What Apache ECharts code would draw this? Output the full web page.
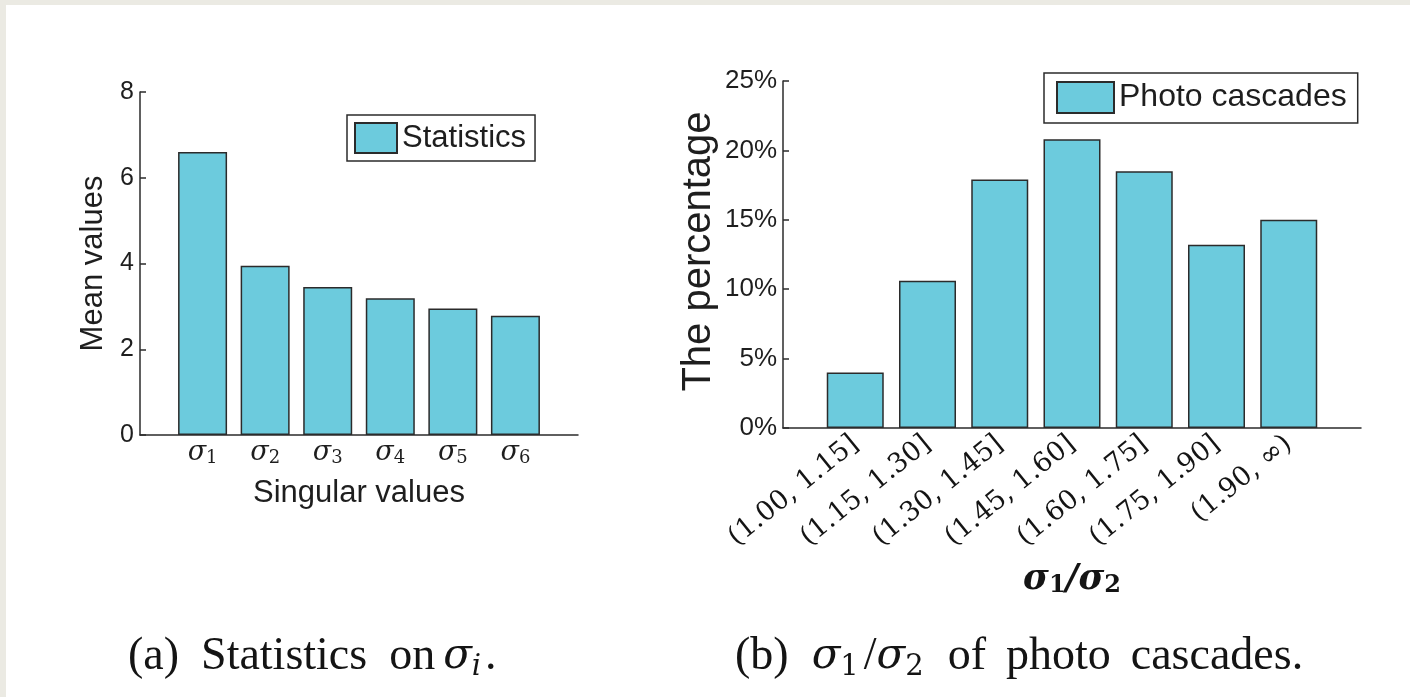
<!DOCTYPE html>
<html>
<head>
<meta charset="utf-8">
<script src="https://cdn.jsdelivr.net/npm/echarts@6/dist/echarts.min.js"></script>
<style>
  html, body { margin: 0; padding: 0; width: 1410px; height: 697px; overflow: hidden; background: #ebeae3; }
  #paper { position: absolute; left: 6px; top: 5px; right: 0; bottom: 0; background: #ffffff; }
  #chart { position: absolute; left: 0; top: 0; width: 1410px; height: 697px; }
</style>
</head>
<body>
<div id="paper"></div>
<div id="chart"></div>
<script>
// (a) mean of the leading singular values
const statCategories = ['σ1', 'σ2', 'σ3', 'σ4', 'σ5', 'σ6'];
const statValues = [6.6, 3.95, 3.45, 3.19, 2.95, 2.78];
const statTicks = [0, 2, 4, 6, 8];

// (b) distribution of sigma1 / sigma2 over photo cascades (percent)
const ratioCategories = ['(1.00, 1.15]', '(1.15, 1.30]', '(1.30, 1.45]', '(1.45, 1.60]', '(1.60, 1.75]', '(1.75, 1.90]', '(1.90, ∞)'];
const ratioValues = [4.0, 10.6, 17.9, 20.8, 18.5, 13.2, 15.0];
const percentTicks = [0, 5, 10, 15, 20, 25];

const BAR_FILL = '#6ccbdd';
const EDGE = '#2b2b2b';
const INK = '#1e1e1e';
const CAP = '#141414';
const SANS = '"Liberation Sans", Arial, sans-serif';
const SERIF = '"Liberation Serif", "Times New Roman", serif';
const MATH = '"DejaVu Serif", serif';

const chart = echarts.init(document.getElementById('chart'), null, { renderer: 'canvas' });

function catIndex(v, list) {
  const i = Math.round(v) - 1;
  return (Math.abs(v - Math.round(v)) < 1e-6 && i >= 0 && i < list.length) ? i : -1;
}

const axisLineStyle = { color: EDGE, width: 1.5 };

function capStyle(extra) {
  return Object.assign({ fontFamily: SERIF, fontWeight: 'normal', fontSize: 46, lineHeight: 50, color: CAP }, extra || {});
}
function gap(w) { return capStyle({ width: w }); }
const capMath = capStyle({ fontFamily: MATH, fontStyle: 'italic', fontSize: 42 });
const capSub = capStyle({ fontFamily: MATH, fontSize: 29, lineHeight: 30, verticalAlign: 'bottom' });

const option = {
  animation: false,
  grid: [
    { left: 140, top: 92, width: 438, height: 343, outerBoundsMode: 'none', containLabel: false },
    { left: 783, top: 81, width: 578, height: 347, outerBoundsMode: 'none', containLabel: false }
  ],
  legend: [
    {
      data: ['Statistics'], left: 347, top: 115, selectedMode: false,
      itemWidth: 42, itemHeight: 30, padding: [7, 9, 7, 7],
      borderColor: EDGE, borderWidth: 1.5, backgroundColor: '#fff', borderRadius: 0,
      icon: 'rect',
      textStyle: { fontFamily: SANS, fontSize: 31, color: INK, lineHeight: 30 }
    },
    {
      data: ['Photo cascades'], left: 1044, top: 73, selectedMode: false,
      itemWidth: 57, itemHeight: 31, padding: [8, 11, 9, 12],
      borderColor: EDGE, borderWidth: 1.5, backgroundColor: '#fff', borderRadius: 0,
      icon: 'rect',
      textStyle: { fontFamily: SANS, fontSize: 32, color: INK, lineHeight: 32 }
    }
  ],
  xAxis: [
    {
      gridIndex: 0, type: 'value', min: 0, max: statCategories.length + 1, interval: 1,
      splitLine: { show: false }, axisTick: { show: false },
      axisLine: { show: true, lineStyle: axisLineStyle },
      axisLabel: {
        margin: 4, color: INK,
        formatter: function (v) {
          const i = catIndex(v, statCategories);
          if (i < 0) return '';
          const c = statCategories[i];
          return '{s|' + c.slice(0, 1) + '}{n|' + c.slice(1) + '}';
        },
        rich: {
          s: { fontFamily: MATH, fontStyle: 'italic', fontSize: 27, lineHeight: 28, color: INK },
          n: { fontFamily: MATH, fontSize: 18, lineHeight: 12, verticalAlign: 'bottom', color: INK }
        }
      },
      name: 'Singular values', nameLocation: 'middle', nameGap: 43,
      nameTextStyle: { fontFamily: SANS, fontSize: 31, color: INK }
    },
    {
      gridIndex: 1, type: 'value', min: 0, max: ratioCategories.length + 1, interval: 1,
      splitLine: { show: false }, axisTick: { show: false },
      axisLine: { show: true, lineStyle: axisLineStyle },
      axisLabel: {
        margin: 13, rotate: 39, color: '#141414',
        fontFamily: MATH, fontSize: 27,
        formatter: function (v) {
          const i = catIndex(v, ratioCategories);
          return i < 0 ? '' : ratioCategories[i];
        }
      },
      name: '{s|σ}{n|1}{s|/σ}{n|2}', nameLocation: 'middle', nameGap: 134,
      nameTextStyle: {
        rich: {
          s: { fontFamily: MATH, fontStyle: 'italic', fontWeight: 'bold', fontSize: 35, lineHeight: 36, color: '#141414' },
          n: { fontFamily: MATH, fontWeight: 'bold', fontSize: 24, lineHeight: 16, verticalAlign: 'bottom', color: '#141414' }
        }
      }
    }
  ],
  yAxis: [
    {
      gridIndex: 0, type: 'value', min: statTicks[0], max: statTicks[statTicks.length - 1],
      interval: statTicks[1] - statTicks[0],
      splitLine: { show: false },
      axisLine: { show: true, lineStyle: axisLineStyle },
      axisTick: { show: true, inside: true, length: 6, lineStyle: axisLineStyle },
      axisLabel: { margin: 6, fontFamily: SANS, fontSize: 25, color: INK },
      name: 'Mean values', nameLocation: 'middle', nameGap: 31,
      nameTextStyle: { fontFamily: SANS, fontSize: 31, color: INK }
    },
    {
      gridIndex: 1, type: 'value', min: percentTicks[0], max: percentTicks[percentTicks.length - 1],
      interval: percentTicks[1] - percentTicks[0],
      splitLine: { show: false },
      axisLine: { show: true, lineStyle: axisLineStyle },
      axisTick: { show: true, inside: true, length: 6, lineStyle: axisLineStyle },
      axisLabel: { margin: 6, fontFamily: SANS, fontSize: 26, color: INK, formatter: '{value}%' },
      name: 'The percentage', nameLocation: 'middle', nameGap: 64,
      nameTextStyle: { fontFamily: SANS, fontSize: 40, color: INK, padding: [0, 0, 0, 6] }
    }
  ],
  series: [
    {
      name: 'Statistics', type: 'bar', xAxisIndex: 0, yAxisIndex: 0, barWidth: 49,
      itemStyle: { color: BAR_FILL, borderColor: EDGE, borderWidth: 1.5 },
      data: statValues.map((v, i) => [i + 1, v])
    },
    {
      name: 'Photo cascades', type: 'bar', xAxisIndex: 1, yAxisIndex: 1, barWidth: 57,
      itemStyle: { color: BAR_FILL, borderColor: EDGE, borderWidth: 1.5 },
      data: ratioValues.map((v, i) => [i + 1, v])
    }
  ],
  title: [
    {
      left: 128, top: 632, padding: 0,
      text: '{t|(a)}{g|\u00a0}{t|Statistics}{w|\u00a0}{t|on}{v|\u00a0}{m|σ}{i|i}{d|\u00a0}{t|.}',
      textStyle: {
        fontWeight: 'normal',
        rich: {
          t: capStyle(), g: gap(22), w: gap(22), v: gap(8), d: gap(4),
          m: capMath,
          i: Object.assign({}, capSub, { fontStyle: 'italic' })
        }
      }
    },
    {
      left: 735, top: 632, padding: 0,
      text: '{t|(b)}{g|\u00a0}{m|σ}{i|1}{k|\u00a0}{t|/}{m|σ}{i|2}{w|\u00a0}{t|of}{s|\u00a0}{t|photo}{s|\u00a0}{t|cascades.}',
      textStyle: {
        fontWeight: 'normal',
        rich: {
          t: capStyle(), g: gap(23), w: gap(24), k: gap(5), s: gap(20),
          m: capMath,
          i: capSub
        }
      }
    }
  ]
};

chart.setOption(option);
</script>
</body>
</html>
